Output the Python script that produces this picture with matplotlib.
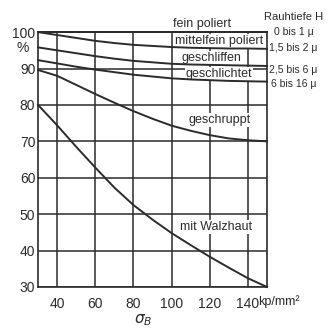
import numpy as np
import matplotlib
matplotlib.use("Agg")
import matplotlib.pyplot as plt

plt.rcParams['font.family'] = ['Liberation Sans', 'DejaVu Sans']

# tensile strength sigma_B in kp/mm^2
sigma_b = [30, 40, 50, 60, 70, 80, 90, 100, 110, 120, 130, 140, 150]

# surface factor in %
fein_poliert = [100, 100, 100, 100, 100, 100, 100, 100, 100, 100, 100, 100, 100]
mittelfein_poliert = [100, 99.2, 98.4, 97.6, 97.0, 96.5, 96.2, 95.9, 95.7, 95.6, 95.5, 95.5, 95.4]
geschliffen = [95.8, 95.0, 94.2, 93.4, 92.7, 92.1, 91.7, 91.3, 91.1, 91.0, 90.9, 90.8, 90.7]
geschlichtet = [92.3, 91.4, 90.5, 89.7, 89.0, 88.3, 87.8, 87.3, 87.0, 86.8, 86.6, 86.5, 86.4]
geschruppt = [89.6, 88.0, 85.5, 83.0, 80.6, 78.3, 76.2, 74.3, 72.9, 71.7, 70.8, 70.3, 70.0]
walzhaut = [80.0, 74.4, 68.5, 62.8, 57.3, 52.5, 48.5, 44.8, 41.5, 38.3, 35.3, 32.4, 30.0]

curves = [fein_poliert, mittelfein_poliert, geschliffen, geschlichtet, geschruppt, walzhaut]
curve_names = ['fein poliert', 'mittelfein poliert', 'geschliffen',
               'geschlichtet', 'geschruppt', 'mit Walzhaut']
name_pos = [(116, 102.2), (125, 97.5), (121, 93.0), (125, 88.5), (125, 75.8), (123.4, 46.4)]

rough_title = 'Rauhtiefe H'
rough_labels = ['0 bis 1 μ', '1,5 bis 2 μ', '2,5 bis 6 μ', '6 bis 16 μ']
rough_y = [100.0, 95.6, 89.6, 85.7]

xticks = [40, 60, 80, 100, 120, 140]
yticks = [30, 40, 50, 60, 70, 80, 90, 100]

ink = '#2b2b2b'

fig = plt.figure(figsize=(3.28, 3.31), dpi=100)
ax = fig.add_axes([0.116, 0.133, 0.698, 0.770])

for c in curves:
    ax.plot(sigma_b, c, color=ink, linewidth=1.4, zorder=5, clip_on=False)

ax.set_xlim(30, 150)
ax.set_ylim(30, 100)
ax.set_xticks(xticks)
ax.set_yticks(yticks)
ax.grid(True, color=ink, linewidth=1.1, zorder=1)
ax.set_axisbelow(True)
for s in ax.spines.values():
    s.set_color(ink)
    s.set_linewidth(1.2)
ax.tick_params(length=0, labelsize=10, colors=ink)
ax.tick_params(axis='x', pad=7)
ax.tick_params(axis='y', pad=2)

for name, (tx, ty) in zip(curve_names, name_pos):
    ax.text(tx, ty, name, ha='center', va='center', fontsize=9, color=ink,
            zorder=4, clip_on=False,
            bbox=dict(facecolor='white', edgecolor='none', pad=0.6))

ax.text(163.8, 104.1, rough_title, ha='center', va='center', fontsize=8,
        color=ink, clip_on=False)
for lab, ly in zip(rough_labels, rough_y):
    ax.text(163.8, ly, lab, ha='center', va='center', fontsize=7.5,
            color=ink, clip_on=False)

ax.text(21.7, 95.6, '%', ha='center', va='center', fontsize=10, color=ink, clip_on=False)
ax.text(145.6, 25.9, 'kp/mm²', ha='left', va='center', fontsize=9, color=ink, clip_on=False)
ax.text(85, 20.9, r'$\sigma_B$', ha='center', va='center', fontsize=11, color=ink, clip_on=False)

fig.savefig('out.png', dpi=100, facecolor='white')
